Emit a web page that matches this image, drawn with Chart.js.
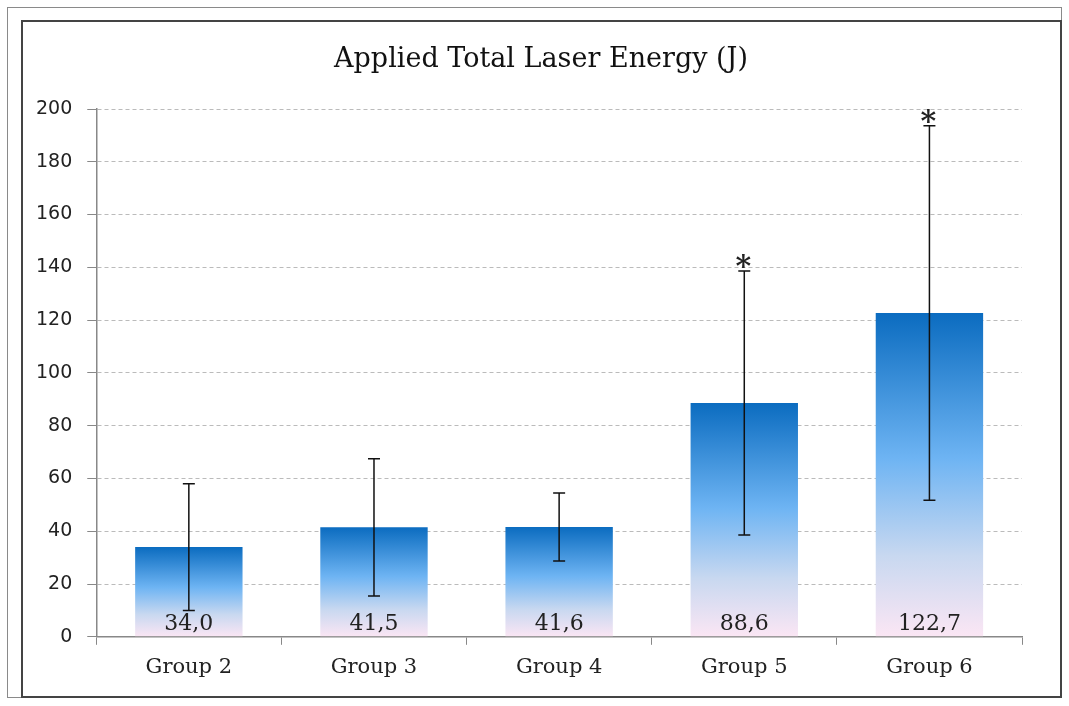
<!DOCTYPE html>
<html>
<head>
<meta charset="utf-8">
<script src="https://cdn.jsdelivr.net/npm/chart.js@4"></script>
<style>
  html, body { margin: 0; padding: 0; background: #fff; }
  #wrap { width: 1069px; height: 706px; position: relative; }
</style>
</head>
<body>
<div id="wrap"><canvas id="chart" width="1069" height="706"></canvas></div>
<script>
const groups = ["Group 2", "Group 3", "Group 4", "Group 5", "Group 6"];
const energy = [34.0, 41.5, 41.6, 88.6, 122.7];
const sd = [24, 26, 12.9, 50, 71];
const significant = [false, false, false, true, true];
const yTicks = [0, 20, 40, 60, 80, 100, 120, 140, 160, 180, 200];
const titleText = 'Applied Total Laser Energy (J)';

const serif = "'DejaVu Serif', 'Liberation Serif', serif";

function barGradient(context) {
    const chart = context.chart;
    const { ctx, chartArea, scales } = chart;
    if (!chartArea) return '#4a9be0';
    const v = context.raw;
    const top = scales.y.getPixelForValue(v);
    const bottom = scales.y.getPixelForValue(0);
    const g = ctx.createLinearGradient(0, top, 0, bottom);
    g.addColorStop(0, '#0b6cc0');
    g.addColorStop(0.45, '#6eb4f3');
    g.addColorStop(0.75, '#c8d8f0');
    g.addColorStop(1, '#fbe6f4');
    return g;
}

// outer frames and the title, centred on the frame rather than the plot
const frames = {
    id: 'frames',
    beforeDraw(chart) {
        const ctx = chart.ctx;
        ctx.save();
        ctx.fillStyle = '#fff';
        ctx.fillRect(0, 0, chart.width, chart.height);
        ctx.strokeStyle = '#8a8a8a';
        ctx.lineWidth = 1;
        ctx.strokeRect(7.5, 7.5, 1054, 690);
        ctx.strokeStyle = '#444';
        ctx.lineWidth = 2;
        ctx.strokeRect(22, 21, 1039, 676);
        ctx.fillStyle = '#111';
        ctx.font = "27px " + serif;
        ctx.textAlign = 'center';
        ctx.textBaseline = 'middle';
        ctx.fillText(titleText, 541, 60);
        ctx.restore();
    }
};

const extras = {
    id: 'extras',
    afterDatasetsDraw(chart) {
        const ctx = chart.ctx;
        const y = chart.scales.y;
        const meta = chart.getDatasetMeta(0);
        ctx.save();
        meta.data.forEach((bar, i) => {
            const x = bar.x;
            // value label at the foot of the bar
            ctx.fillStyle = '#222';
            ctx.font = "22px " + serif;
            ctx.textAlign = 'center';
            ctx.textBaseline = 'alphabetic';
            ctx.fillText(energy[i].toFixed(1).replace('.', ','), x, y.getPixelForValue(0) - 7);
            // error bar
            const hi = y.getPixelForValue(energy[i] + sd[i]);
            const lo = y.getPixelForValue(energy[i] - sd[i]);
            ctx.strokeStyle = '#111';
            ctx.lineWidth = 1.5;
            ctx.beginPath();
            ctx.moveTo(x, hi); ctx.lineTo(x, lo);
            ctx.moveTo(x - 6, hi); ctx.lineTo(x + 6, hi);
            ctx.moveTo(x - 6, lo); ctx.lineTo(x + 6, lo);
            ctx.stroke();
            if (significant[i]) {
                ctx.font = "bold 30px " + serif;
                ctx.textBaseline = 'alphabetic';
                ctx.fillText('*', x - 1, hi + 5);
            }
        });
        ctx.restore();
    }
};

new Chart(document.getElementById('chart'), {
    type: 'bar',
    data: {
        labels: groups,
        datasets: [{
            data: energy,
            backgroundColor: barGradient,
            borderWidth: 0,
            categoryPercentage: 1,
            barPercentage: 0.58
        }]
    },
    options: {
        responsive: false,
        animation: false,
        devicePixelRatio: 1,
        layout: { padding: { left: 21, right: 47, top: 109, bottom: 16 } },
        plugins: {
            legend: { display: false },
            tooltip: { enabled: false },
            title: { display: false }
        },
        scales: {
            x: {
                grid: {
                    offset: true,
                    drawOnChartArea: false,
                    color: '#888',
                    tickLength: 8
                },
                border: { color: '#888', width: 1.5 },
                ticks: {
                    color: '#222',
                    font: { family: serif, size: 21 },
                    padding: 10
                }
            },
            y: {
                min: 0,
                max: 200,
                afterBuildTicks(scale) {
                    scale.ticks = yTicks.map(v => ({ value: v }));
                },
                grid: {
                    color: '#bbb',
                    tickLength: 9,
                    tickColor: '#888',
                    drawTicks: true,
                    tickBorderDash: []
                },
                border: { color: '#888', width: 1.5, dash: [4, 3] },
                ticks: {
                    color: '#222',
                    font: { family: "'DejaVu Sans'", size: 19 },
                    padding: 15
                }
            }
        }
    },
    plugins: [frames, extras]
});
</script>
</body>
</html>
